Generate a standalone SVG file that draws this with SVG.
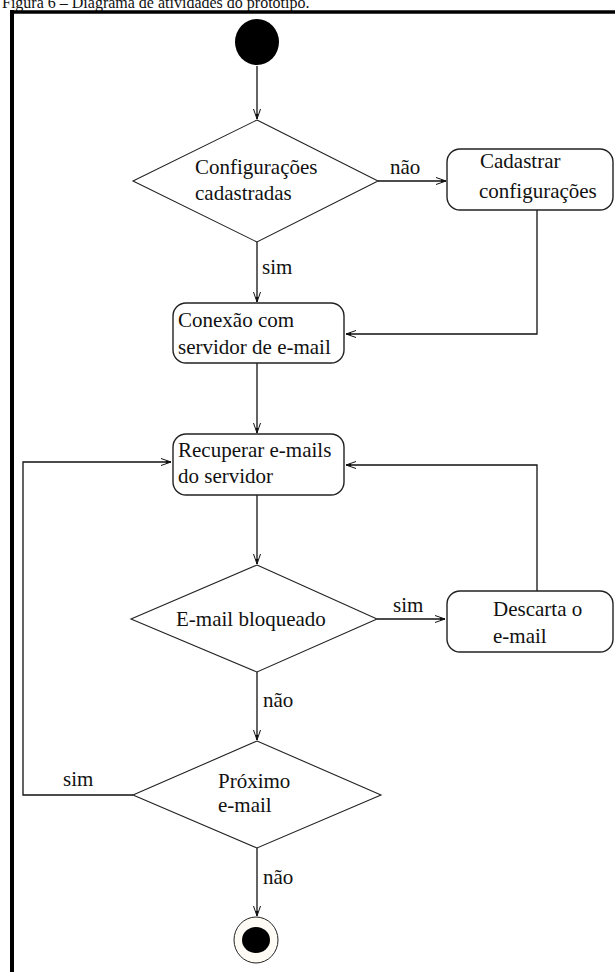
<svg xmlns="http://www.w3.org/2000/svg" width="615" height="972" viewBox="0 0 615 972" font-family="'Liberation Serif', 'Times New Roman', 'DejaVu Serif', serif">
  <style>
    text { font-family: "Liberation Serif", "Times New Roman", "DejaVu Serif", serif; font-size: 21px; fill: #111; }
    .title { font-size: 16px; }
    .frame { stroke: #000; fill: none; }
    .act { fill: #fff; stroke: #222; stroke-width: 1.4; }
    .dec { fill: #fff; stroke: #222; stroke-width: 1.1; }
    .edge { fill: none; stroke: #111; stroke-width: 1.3; }
  </style>
  <defs>
    <marker id="arr" markerUnits="userSpaceOnUse" markerWidth="12" markerHeight="10" viewBox="0 0 12 10" refX="11" refY="5" orient="auto">
      <path d="M1,1.5 L11,5 L1,8.5" fill="none" stroke="#111" stroke-width="1"/>
      <path d="M6,3.6 L11,5 L6,6.4 z" fill="#111"/>
    </marker>
  </defs>

  <text class="title" x="2" y="8">Figura 6 – Diagrama de atividades do protótipo.</text>

  <!-- page frame -->
  <line class="frame" x1="10" y1="12" x2="615" y2="12" stroke-width="3.5"/>
  <line class="frame" x1="12" y1="10" x2="12" y2="972" stroke-width="4"/>

  <!-- connectors -->
  <g id="connectors">
    <path class="edge" d="M257,66 V119" marker-end="url(#arr)"/>
    <path class="edge" d="M378,181 H446" marker-end="url(#arr)"/>
    <path class="edge" d="M257,242 V302" marker-end="url(#arr)"/>
    <path class="edge" d="M537,210 V334 H346" marker-end="url(#arr)"/>
    <path class="edge" d="M257,363 V433" marker-end="url(#arr)"/>
    <path class="edge" d="M257,495 V564" marker-end="url(#arr)"/>
    <path class="edge" d="M377,619 H445" marker-end="url(#arr)"/>
    <path class="edge" d="M537,591 V465 H346" marker-end="url(#arr)"/>
    <path class="edge" d="M257,672 V740" marker-end="url(#arr)"/>
    <path class="edge" d="M133,795 H23 V462 H171" marker-end="url(#arr)"/>
    <path class="edge" d="M257,848 V916" marker-end="url(#arr)"/>
    <text x="390" y="174">não</text>
    <text x="262" y="274">sim</text>
    <text x="393" y="612">sim</text>
    <text x="263" y="707">não</text>
    <text x="63" y="786">sim</text>
    <text x="263" y="884">não</text>
  </g>

  <g id="start">
    <ellipse cx="257" cy="42" rx="22" ry="23" fill="#000"/>
  </g>

  <g id="configuracoes-cadastradas">
    <polygon class="dec" points="257,120 378,181 257,242 133,181"/>
    <text x="195" y="174">Configurações</text>
    <text x="195" y="200">cadastradas</text>
  </g>

  <g id="cadastrar-configuracoes">
    <rect class="act" x="447" y="149" width="166" height="61" rx="13" ry="13"/>
    <text x="480" y="168">Cadastrar</text>
    <text x="479" y="198">configurações</text>
  </g>

  <g id="conexao-servidor">
    <rect class="act" x="173" y="303" width="171" height="60" rx="13" ry="13"/>
    <text x="178" y="327">Conexão com</text>
    <text x="178" y="354">servidor de e-mail</text>
  </g>

  <g id="recuperar-emails">
    <rect class="act" x="173" y="434" width="171" height="61" rx="13" ry="13"/>
    <text x="178" y="457">Recuperar e-mails</text>
    <text x="178" y="483">do servidor</text>
  </g>

  <g id="email-bloqueado">
    <polygon class="dec" points="257,565 377,619 257,672 131,619"/>
    <text x="176" y="626">E-mail bloqueado</text>
  </g>

  <g id="descarta-email">
    <rect class="act" x="447" y="591" width="166" height="61" rx="13" ry="13"/>
    <text x="493" y="616">Descarta o</text>
    <text x="493" y="643">e-mail</text>
  </g>

  <g id="proximo-email">
    <polygon class="dec" points="257,741 381,795 257,848 133,795"/>
    <text x="218" y="788">Próximo</text>
    <text x="218" y="812">e-mail</text>
  </g>

  <g id="end">
    <ellipse cx="256" cy="940" rx="22" ry="23" fill="#fdfbf4" stroke="#222" stroke-width="1"/>
    <ellipse cx="256" cy="940" rx="14" ry="13" fill="#000"/>
  </g>
</svg>
